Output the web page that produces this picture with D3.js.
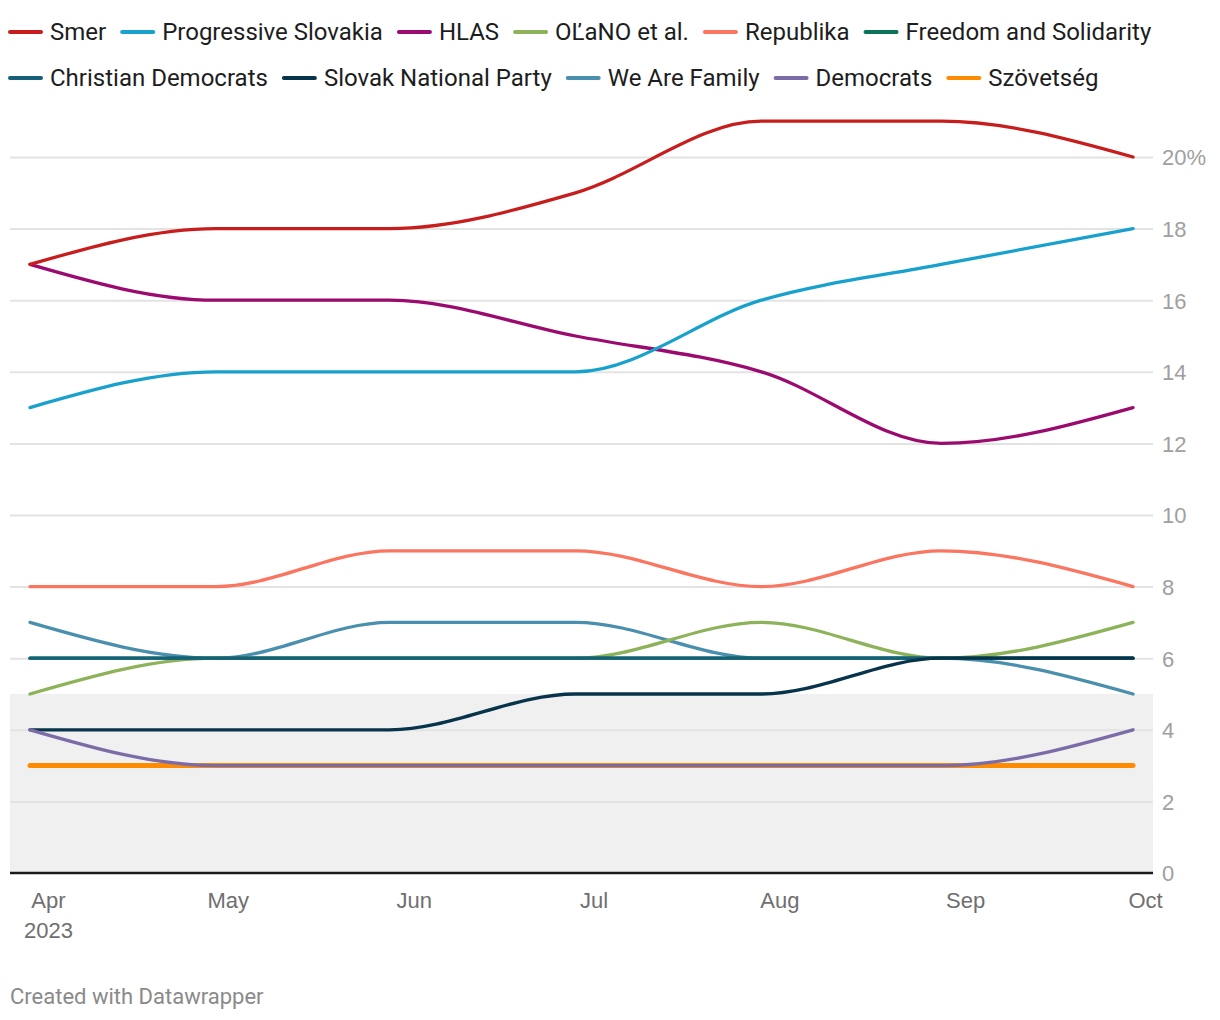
<!DOCTYPE html>
<html>
<head>
<meta charset="utf-8">
<script src="https://cdn.jsdelivr.net/npm/d3@7"></script>
<style>
  html, body { margin: 0; padding: 0; background: #fff; }
  svg { display: block; font-family: Roboto, "Noto Sans", sans-serif; }
</style>
</head>
<body>
<svg id="chart" width="1220" height="1020"></svg>
<script>
// ---- data ----
const dates = ["2023-03-29", "2023-04-29", "2023-05-28", "2023-06-28", "2023-07-29", "2023-08-28", "2023-09-29"];
const parties = ["Smer", "Progressive Slovakia", "HLAS", "OĽaNO et al.", "Republika", "Freedom and Solidarity",
                 "Christian Democrats", "Slovak National Party", "We Are Family", "Democrats", "Szövetség"];
const colors = ["#c71e1d", "#18a1cd", "#9b0a6e", "#8db35a", "#fa7660", "#0b735a",
                "#17607a", "#08344b", "#4b8fae", "#7b6ca8", "#ff8c00"];
const smer        = [17, 18, 18, 19, 21, 21, 20];
const progressive = [13, 14, 14, 14, 16, 17, 18];
const hlas        = [17, 16, 16, 15, 14, 12, 13];
const olano       = [5, 6, 6, 6, 7, 6, 7];
const republika   = [8, 8, 9, 9, 8, 9, 8];
const sas         = [6, 6, 6, 6, 6, 6, 6];
const kdh         = [6, 6, 6, 6, 6, 6, 6];
const sns         = [4, 4, 4, 5, 5, 6, 6];
const family      = [7, 6, 7, 7, 6, 6, 5];
const democrats   = [4, 3, 3, 3, 3, 3, 4];
const szovetseg   = [3, 3, 3, 3, 3, 3, 3];
const seriesValues = [smer, progressive, hlas, olano, republika, sas, kdh, sns, family, democrats, szovetseg];
const yTicks = [0, 2, 4, 6, 8, 10, 12, 14, 16, 18, 20];
const xTickLabels = ["Apr", "May", "Jun", "Jul", "Aug", "Sep", "Oct"];
const thresholdValue = 5;
// drawing order (indices into parties), bottom first
const drawOrder = [10, 8, 3, 4, 5, 6, 7, 9, 2, 1, 0];

// ---- layout ----
const svg = d3.select("#chart");
const mLeft = 10, mRight = 1153, mTop = 157, mBottom = 873;
const parseDate = d3.utcParse("%Y-%m-%d");
const x = d3.scaleUtc()
  .domain([new Date(Date.UTC(2023, 2, 25, 16)), new Date(Date.UTC(2023, 9, 2, 8))])
  .range([mLeft, mRight]);
const y = d3.scaleLinear().domain([0, 20]).range([mBottom, mTop]);

// threshold band
svg.append("rect")
  .attr("x", mLeft).attr("y", y(thresholdValue))
  .attr("width", mRight - mLeft).attr("height", y(0) - y(thresholdValue))
  .attr("fill", "#f0f0f0");

// grid
const yAxis = d3.axisRight(y).tickValues(yTicks)
  .tickSize(-(mRight - mLeft))
  .tickPadding(9)
  .tickFormat(d => d === 20 ? "20%" : String(d));
const gy = svg.append("g").attr("transform", `translate(${mRight},0)`).call(yAxis);
gy.select(".domain").remove();
gy.selectAll(".tick line").attr("stroke", "#e3e3e3").attr("stroke-width", 2)
  .filter(d => d === 0).remove();
gy.selectAll(".tick text")
  .attr("fill", "#a0a0a0").attr("font-size", 22).attr("x", 9).attr("text-anchor", "start")
  .attr("dy", "0.36em");

// x axis
const monthTicks = d3.utcMonth.range(new Date(Date.UTC(2023, 3, 1)), new Date(Date.UTC(2023, 9, 2)));
const xAxis = d3.axisBottom(x).tickValues(monthTicks).tickSize(0).tickPadding(0)
  .tickFormat((d, i) => xTickLabels[i]);
const gx = svg.append("g").attr("transform", `translate(0,${mBottom})`).call(xAxis);
gx.select(".domain").remove();
gx.selectAll(".tick text")
  .attr("fill", "#6f6f6f").attr("font-size", 22).attr("y", 35).attr("dy", 0);
gx.selectAll(".tick").filter((d, i) => i === 0)
  .append("text").text("2023")
  .attr("fill", "#6f6f6f").attr("font-size", 22).attr("y", 65).attr("text-anchor", "middle");

// lines
const line = d3.line()
  .x((d, i) => x(parseDate(dates[i])))
  .y(d => y(d))
  .curve(d3.curveMonotoneX);
const gl = svg.append("g");
drawOrder.forEach(k => {
  gl.append("path")
    .datum(seriesValues[k])
    .attr("d", line)
    .attr("fill", "none")
    .attr("stroke", colors[k])
    .attr("stroke-width", k === 10 ? 5 : 3.3)
    .attr("stroke-linecap", "round")
    .attr("stroke-linejoin", "round");
});

// baseline
svg.append("line")
  .attr("x1", mLeft).attr("x2", mRight).attr("y1", mBottom).attr("y2", mBottom)
  .attr("stroke", "#1a1a1a").attr("stroke-width", 2.5);

// legend
const legend = svg.append("g");
const rows = [[0, 1, 2, 3, 4, 5], [6, 7, 8, 9, 10]];
const rowY = [32, 78];
rows.forEach((row, r) => {
  let cx = mLeft;
  row.forEach(k => {
    const g = legend.append("g").attr("transform", `translate(${cx},${rowY[r]})`);
    g.append("line").attr("x1", 0).attr("x2", 31).attr("y1", 0).attr("y2", 0)
      .attr("stroke", colors[k]).attr("stroke-width", 4).attr("stroke-linecap", "round");
    const t = g.append("text").text(parties[k])
      .attr("x", 40).attr("y", 0).attr("dy", "0.35em")
      .attr("font-size", 24).attr("fill", "#1d1d1d");
    const w = t.node().getComputedTextLength();
    cx += 40 + w + 16;
  });
});

// footer
svg.append("text").text("Created with Datawrapper")
  .attr("x", mLeft).attr("y", 1004)
  .attr("font-size", 22).attr("fill", "#8a8a8a");
</script>
</body>
</html>
